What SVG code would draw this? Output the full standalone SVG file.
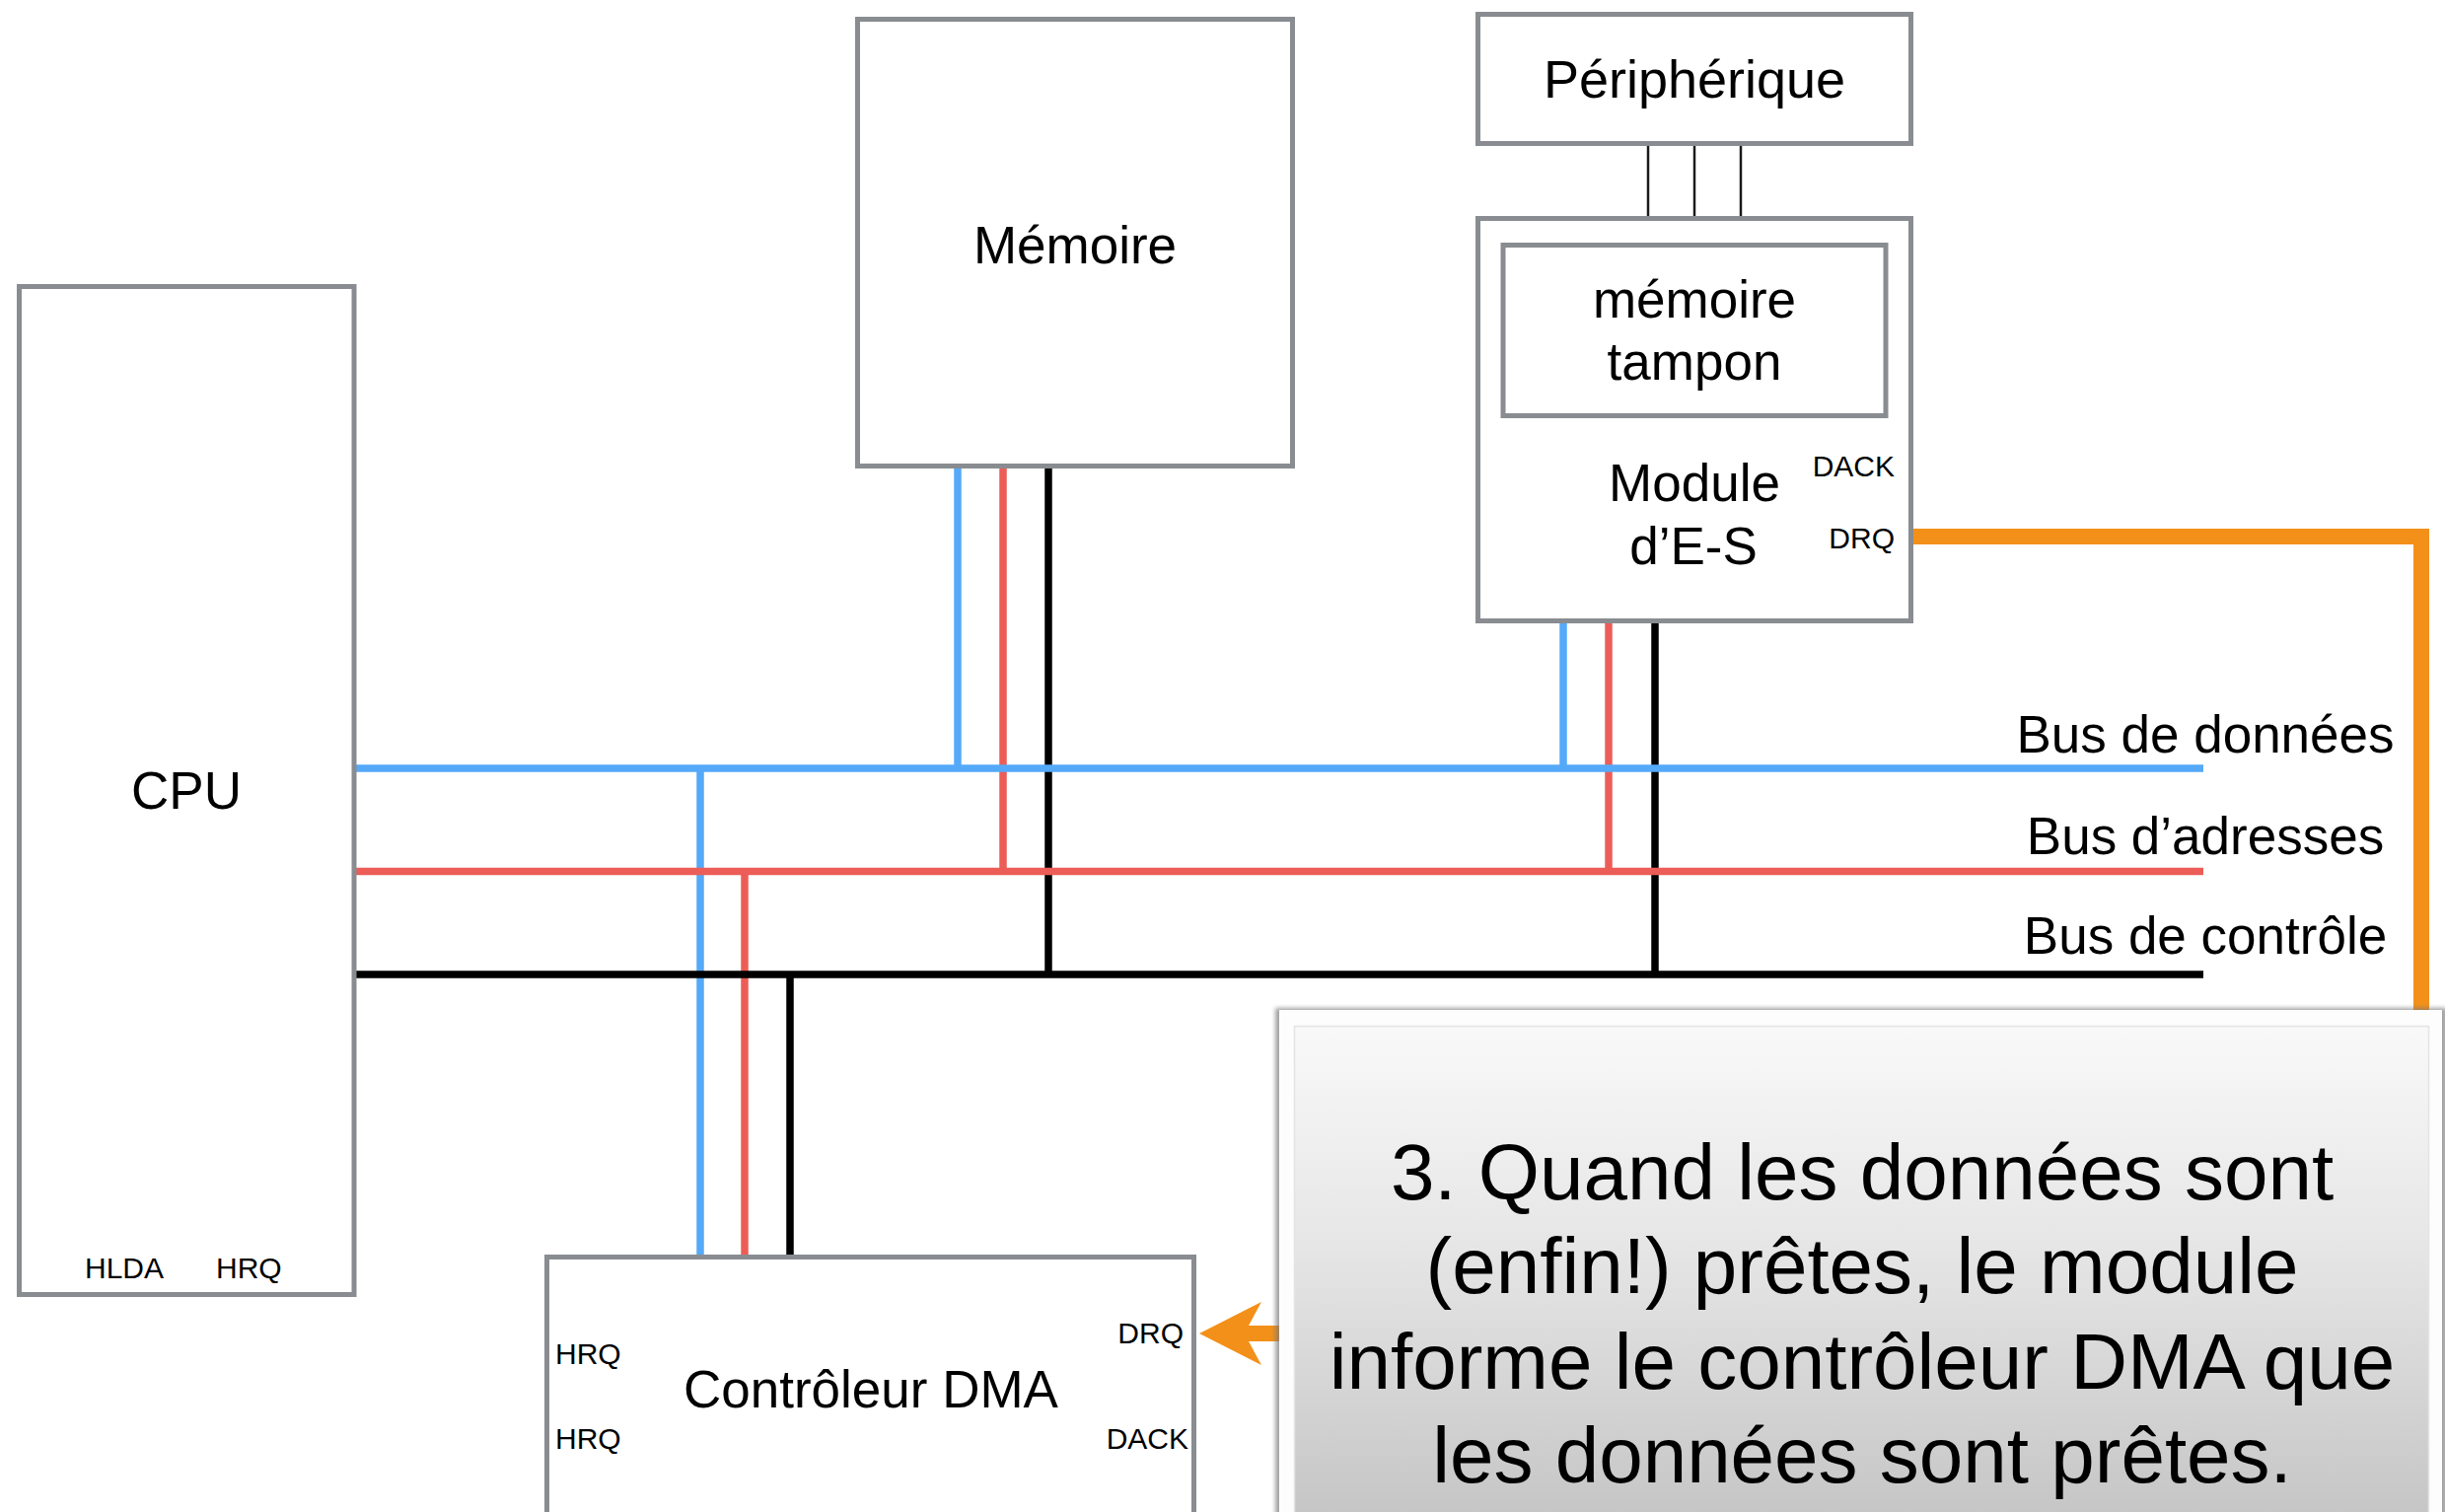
<svg xmlns="http://www.w3.org/2000/svg" width="2479" height="1533" viewBox="0 0 2479 1533">
  <defs>
    <style>
      .box { fill: #ffffff; stroke: #898c90; stroke-width: 5; }
      .lbl { font-family: "Liberation Sans", Arial, Helvetica, sans-serif; font-size: 53px; fill: #000; text-anchor: middle; }
      .sm { font-size: 30px; }
      .start { text-anchor: start; }
      .end { text-anchor: end; }
      .note { font-size: 80px; }
      .wire { fill: none; stroke-width: 7.5; }
      .data { stroke: #55a9f9; }
      .addr { stroke: #ec5d57; }
      .ctrl { stroke: #000000; }
      .link { fill: none; stroke: #1a1a1a; stroke-width: 2.5; }
      .signal { fill: none; stroke: #f39019; stroke-width: 16; stroke-linejoin: miter; }
    </style>
    <marker id="orangeHead" markerUnits="userSpaceOnUse" markerWidth="70" markerHeight="70" viewBox="0 -35 70 70" refX="13" refY="0" orient="auto">
      <path d="M63,0 L0,-32 L13,-8 L13,8 L0,32 Z" fill="#f39019"/>
    </marker>
    <linearGradient id="noteFill" gradientUnits="userSpaceOnUse" x1="0" y1="1040" x2="0" y2="1533">
      <stop offset="0" stop-color="#f9f9f9"/>
      <stop offset="0.45" stop-color="#e6e6e6"/>
      <stop offset="1" stop-color="#c6c6c6"/>
    </linearGradient>
    <filter id="soft" x="-5%" y="-5%" width="110%" height="110%">
      <feGaussianBlur stdDeviation="2"/>
    </filter>
  </defs>

  <rect width="2479" height="1533" fill="#ffffff"/>

  <!-- bus wiring and signal lines -->
  <g id="connectors">
    <!-- peripheral to I/O module links -->
    <line class="link" x1="1671" y1="148" x2="1671" y2="219"/>
    <line class="link" x1="1718" y1="148" x2="1718" y2="219"/>
    <line class="link" x1="1765" y1="148" x2="1765" y2="219"/>

    <!-- memory taps -->
    <line class="wire data" x1="971" y1="475" x2="971" y2="779"/>
    <line class="wire addr" x1="1017" y1="475" x2="1017" y2="883.5"/>
    <line class="wire ctrl" x1="1063" y1="475" x2="1063" y2="988"/>

    <!-- I/O module taps -->
    <line class="wire data" x1="1585" y1="631" x2="1585" y2="779"/>
    <line class="wire addr" x1="1631" y1="631" x2="1631" y2="883.5"/>
    <line class="wire ctrl" x1="1678" y1="631" x2="1678" y2="988"/>

    <!-- DMA controller taps -->
    <line class="wire data" x1="710" y1="779" x2="710" y2="1273"/>
    <line class="wire addr" x1="755" y1="883.5" x2="755" y2="1273"/>
    <line class="wire ctrl" x1="801" y1="988" x2="801" y2="1273"/>

    <!-- system buses -->
    <line class="wire data" x1="359" y1="779" x2="2234" y2="779"/>
    <line class="wire addr" x1="359" y1="883.5" x2="2234" y2="883.5"/>
    <line class="wire ctrl" x1="359" y1="988" x2="2234" y2="988"/>

    <!-- DRQ request from I/O module to DMA controller -->
    <path class="signal" d="M1940,544 H2455 V1352 H1266" marker-end="url(#orangeHead)"/>
  </g>

  <g id="bus-labels">
    <text class="lbl" x="2236" y="763">Bus de données</text>
    <text class="lbl" x="2236" y="866">Bus d’adresses</text>
    <text class="lbl" x="2236" y="967">Bus de contrôle</text>
  </g>

  <g id="cpu">
    <rect class="box" x="19.5" y="290.5" width="339.5" height="1022"/>
    <text class="lbl" x="189" y="820">CPU</text>
    <text class="lbl sm start" x="86" y="1296">HLDA</text>
    <text class="lbl sm start" x="219" y="1296">HRQ</text>
  </g>

  <g id="memoire">
    <rect class="box" x="869.5" y="19.5" width="441" height="453"/>
    <text class="lbl" x="1090" y="267">Mémoire</text>
  </g>

  <g id="peripherique">
    <rect class="box" x="1498.5" y="14.5" width="439" height="131"/>
    <text class="lbl" x="1718" y="99" style="font-size:54px">Périphérique</text>
  </g>

  <g id="module-es">
    <rect class="box" x="1498.5" y="221.5" width="439" height="408"/>
    <text class="lbl" x="1718" y="508">Module</text>
    <text class="lbl" x="1717" y="572">d’E-S</text>
    <text class="lbl sm end" x="1921" y="483">DACK</text>
    <text class="lbl sm end" x="1921" y="556">DRQ</text>
  </g>

  <g id="memoire-tampon">
    <rect class="box" x="1524" y="248.5" width="388" height="173"/>
    <text class="lbl" x="1718" y="322">mémoire</text>
    <text class="lbl" x="1718" y="385">tampon</text>
  </g>

  <g id="controleur-dma">
    <rect class="box" x="554.5" y="1274.5" width="656" height="300"/>
    <text class="lbl" x="883" y="1427">Contrôleur DMA</text>
    <text class="lbl sm start" x="563" y="1383">HRQ</text>
    <text class="lbl sm start" x="563" y="1469">HRQ</text>
    <text class="lbl sm end" x="1200" y="1362">DRQ</text>
    <text class="lbl sm end" x="1205" y="1469">DACK</text>
  </g>

  <g id="explication">
    <rect x="1293" y="1022" width="1188" height="600" fill="#7a7a7a" opacity="0.7" filter="url(#soft)"/>
    <rect x="1297" y="1024" width="1179" height="600" fill="#fdfdfd"/>
    <rect x="1312.5" y="1040.5" width="1150" height="600" fill="url(#noteFill)" stroke="#e4e4e4" stroke-width="1.5"/>
    <text class="lbl note" x="1888" y="1216">3. Quand les données sont</text>
    <text class="lbl note" x="1888" y="1311">(enfin!) prêtes, le module</text>
    <text class="lbl note" x="1888" y="1408">informe le contrôleur DMA que</text>
    <text class="lbl note" x="1888" y="1503">les données sont prêtes.</text>
  </g>
</svg>
